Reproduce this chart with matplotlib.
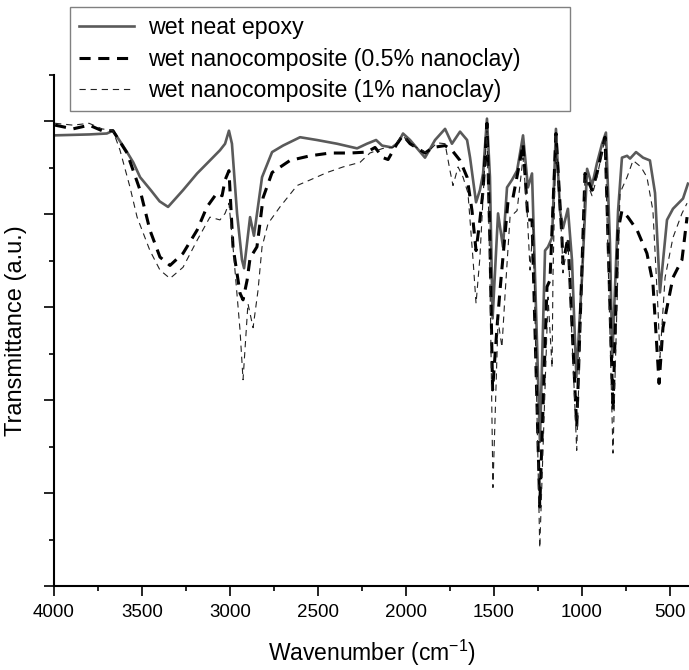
import matplotlib
matplotlib.use("Agg")
import matplotlib.pyplot as plt
from matplotlib.ticker import MultipleLocator

plt.rcParams['font.family'] = ['Liberation Sans', 'DejaVu Sans']
plt.rcParams['mathtext.fontset'] = 'custom'
plt.rcParams['mathtext.rm'] = 'Liberation Sans'
plt.rcParams['lines.scale_dashes'] = False

# wavenumber (cm-1) and transmittance (a.u.)
wn_neat = [4000, 3800, 3700, 3665, 3640, 3585, 3550, 3511, 3450, 3400, 3352, 3267, 3187, 3114, 3057,
           3028, 3006, 2989, 2960, 2932, 2920, 2886, 2864, 2818, 2761, 2699, 2602, 2506, 2392, 2278,
           2222, 2170, 2136, 2080, 2045, 2017, 1977, 1892, 1835, 1778, 1739, 1693, 1653, 1636, 1602,
           1580, 1562, 1540, 1523, 1508, 1477, 1449, 1426, 1398, 1369, 1335, 1307, 1284, 1239, 1210,
           1193, 1170, 1148, 1125, 1108, 1080, 1057, 1032, 1000, 971, 943, 915, 886, 864, 841,
           828, 795, 773, 744, 727, 693, 653, 614, 585, 557, 517, 483, 426, 398]
t_neat = [4.85, 4.86, 4.87, 4.90, 4.83, 4.67, 4.56, 4.40, 4.26, 4.14, 4.08, 4.26, 4.44, 4.58, 4.69,
          4.76, 4.90, 4.76, 4.01, 3.51, 3.42, 3.97, 3.77, 4.40, 4.67, 4.74, 4.83, 4.80, 4.76, 4.71,
          4.76, 4.80, 4.74, 4.72, 4.77, 4.87, 4.80, 4.61, 4.80, 4.92, 4.76, 4.89, 4.80, 4.61, 4.13,
          4.26, 4.44, 5.03, 4.40, 2.88, 4.01, 3.65, 4.29, 4.37, 4.47, 4.85, 4.29, 4.44, 1.55, 3.61,
          3.65, 3.75, 4.92, 4.04, 3.85, 4.06, 3.51, 2.25, 3.32, 4.49, 4.31, 4.55, 4.76, 4.88, 3.69,
          2.46, 4.04, 4.61, 4.63, 4.60, 4.67, 4.61, 4.58, 4.23, 3.16, 3.94, 4.06, 4.17, 4.33]

wn_05 = [3994, 3892, 3800, 3727, 3665, 3585, 3511, 3455, 3398, 3341, 3267, 3187, 3131, 3074, 3045,
         3028, 3006, 2983, 2943, 2926, 2903, 2886, 2847, 2830, 2812, 2761, 2659, 2545, 2432, 2318,
         2222, 2176, 2131, 2102, 2051, 2017, 1977, 1892, 1847, 1778, 1739, 1693, 1653, 1625, 1602,
         1580, 1562, 1540, 1523, 1508, 1483, 1466, 1449, 1420, 1392, 1352, 1335, 1307, 1284, 1240,
         1199, 1182, 1148, 1114, 1108, 1080, 1030, 983, 943, 915, 869, 824, 795, 773, 739,
         687, 631, 597, 562, 540, 483, 432, 403]
t_05 = [4.96, 4.92, 4.96, 4.90, 4.90, 4.66, 4.26, 3.83, 3.54, 3.45, 3.58, 3.83, 4.08, 4.23, 4.20,
        4.37, 4.47, 3.65, 3.15, 3.08, 3.29, 3.53, 3.65, 3.90, 4.18, 4.45, 4.58, 4.63, 4.66, 4.66,
        4.67, 4.72, 4.61, 4.59, 4.76, 4.85, 4.76, 4.66, 4.72, 4.74, 4.69, 4.58, 4.40, 4.04, 3.61,
        3.94, 4.26, 4.98, 3.69, 2.11, 2.78, 3.18, 3.54, 4.15, 4.18, 4.58, 4.76, 3.94, 3.94, 0.85,
        3.22, 3.29, 4.87, 3.75, 3.47, 3.75, 1.71, 4.44, 4.26, 4.44, 4.83, 1.89, 3.83, 4.04, 3.97,
        3.83, 3.58, 3.26, 2.18, 2.78, 3.32, 3.51, 3.97]

wn_1 = [3994, 3892, 3801, 3727, 3665, 3625, 3568, 3528, 3455, 3398, 3341, 3267, 3187, 3114, 3057,
        3028, 3006, 2983, 2943, 2926, 2898, 2869, 2841, 2818, 2784, 2716, 2619, 2545, 2449, 2358,
        2261, 2205, 2131, 2074, 2023, 1960, 1881, 1824, 1778, 1750, 1733, 1704, 1676, 1648, 1619,
        1602, 1580, 1551, 1540, 1523, 1506, 1477, 1455, 1438, 1409, 1369, 1335, 1312, 1295, 1278,
        1240, 1193, 1170, 1165, 1148, 1114, 1108, 1080, 1030, 983, 943, 915, 869, 824, 784,
        744, 710, 665, 631, 597, 568, 557, 528, 483, 432, 403]
t_1 = [4.98, 4.96, 4.98, 4.92, 4.90, 4.69, 4.29, 3.97, 3.61, 3.40, 3.31, 3.43, 3.72, 3.97, 3.94,
       4.01, 4.12, 3.65, 2.75, 2.22, 3.04, 2.78, 3.18, 3.65, 3.90, 4.08, 4.31, 4.37, 4.45, 4.51,
       4.56, 4.66, 4.71, 4.72, 4.85, 4.74, 4.66, 4.77, 4.76, 4.47, 4.31, 4.51, 4.40, 4.23, 3.51,
       3.04, 3.54, 4.58, 4.90, 3.32, 1.06, 2.86, 2.57, 3.11, 3.97, 4.04, 4.61, 4.04, 3.40, 3.90,
       0.41, 3.11, 2.35, 3.32, 4.87, 3.69, 3.37, 3.72, 1.46, 4.40, 4.20, 4.40, 4.82, 1.43, 4.23,
       4.40, 4.58, 4.51, 4.40, 4.04, 2.97, 2.46, 3.32, 3.75, 4.01, 4.12]

labels = ["wet neat epoxy", "wet nanocomposite (0.5% nanoclay)", "wet nanocomposite (1% nanoclay)"]
x_ticks = [4000, 3500, 3000, 2500, 2000, 1500, 1000, 500]

fig = plt.figure(figsize=(6.89, 6.70), dpi=100)
ax = fig.add_axes([0.0784, 0.1254, 0.9216, 0.7627])

ax.plot(wn_neat, t_neat, color="#5a5a5a", lw=1.9, solid_joinstyle="round", label=labels[0])
ax.plot(wn_05, t_05, color="black", lw=2.2, dashes=(8, 5.5), label=labels[1])
ax.plot(wn_1, t_1, color="#222222", lw=0.8, dashes=(4.5, 3.5), label=labels[2])

ax.set_xlim(4000, 392)
ax.set_ylim(0, 5.5)
ax.set_xticks(x_ticks)
ax.xaxis.set_minor_locator(MultipleLocator(250))
ax.yaxis.set_major_locator(MultipleLocator(1))
ax.yaxis.set_minor_locator(MultipleLocator(0.5))
ax.set_yticklabels([])
ax.tick_params(which="major", direction="out", length=7, width=1.2, labelsize=13.5, pad=6)
ax.tick_params(which="minor", direction="out", length=3.8, width=1.2)

for s in ["top", "right"]:
    ax.spines[s].set_visible(False)
for s in ["left", "bottom"]:
    ax.spines[s].set_linewidth(1.5)

ax.set_xlabel("Wavenumber (cm$^{-1}$)", fontsize=16.5)
ax.xaxis.set_label_coords(0.5, -0.102)
ax.set_ylabel("Transmittance (a.u.)", fontsize=17)
ax.yaxis.set_label_coords(-0.043, 0.5)

# legend box runs from x=70 to x=570 px and sits above the axes
leg = fig.legend(loc="upper left", bbox_to_anchor=(70 / 689, 0.5, 500 / 689, 0.5 - 7 / 670),
                 mode="expand", fontsize=16.7,
                 frameon=True, fancybox=False, framealpha=1, edgecolor="#808080",
                 borderpad=0.4, labelspacing=0.36, handlelength=2.35, handletextpad=0.6,
                 borderaxespad=0)
leg.get_frame().set_linewidth(1.0)

fig.savefig("out.png", dpi=100)
